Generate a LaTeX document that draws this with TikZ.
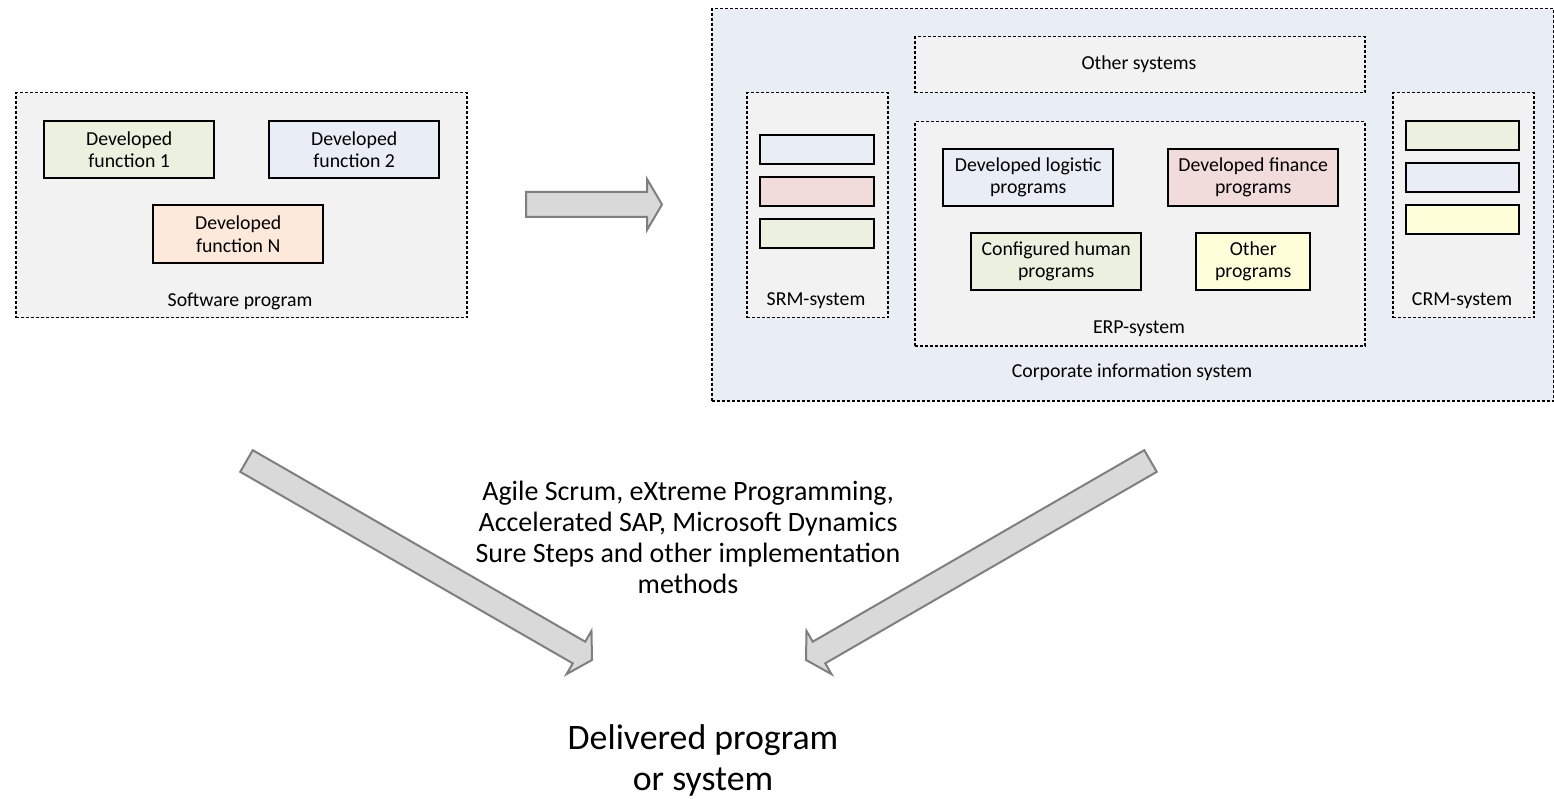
\documentclass[tikz,border=0pt]{standalone}
\usepackage{fontspec}
\setmainfont{Carlito}
\usetikzlibrary{calc}
\definecolor{outergray}{HTML}{F2F2F2}
\definecolor{outerblue}{HTML}{E9EDF4}
\definecolor{fgreen}{HTML}{EBF1DE}
\definecolor{fblue}{HTML}{E9EDF5}
\definecolor{fpeach}{HTML}{FDE9D9}
\definecolor{fpink}{HTML}{F2DCDB}
\definecolor{fyellow}{HTML}{FFFFD9}
\definecolor{arrfill}{HTML}{D9D9D9}
\definecolor{arrline}{HTML}{7F7F7F}
\tikzset{
  dotbox/.style={draw=black, line width=1.5pt, dash pattern=on 3pt off 2pt, inner sep=0pt, anchor=north west},
  progbox/.style={draw=black, line width=2.4pt, inner sep=0pt, anchor=north west, align=center,
    font=\fontsize{19.8}{22}\selectfont},
  lbl/.style={inner sep=0pt, font=\fontsize{19.8}{22}\selectfont},
  blockarr/.style={draw=arrline, fill=arrfill, line width=2pt, line join=miter},
}
\begin{document}
\begin{tikzpicture}[x=1pt,y=-1pt]
\useasboundingbox (0,0) rectangle (1554,799);

% ---- Left: software program
\node[dotbox, fill=outergray, minimum width=451pt, minimum height=225pt] (sw) at (15,92) {};
\node[progbox, fill=fgreen, minimum width=170pt, minimum height=57pt] (f1) at (43,120) {Developed\\function 1};
\node[progbox, fill=fblue, minimum width=170pt, minimum height=57pt] (f2) at (268,120) {Developed\\function 2};
\node[progbox, fill=fpeach, minimum width=170pt, minimum height=58pt] (fn) at (152,204) {Developed\\function N};
\node[lbl] (swl) at (240,301) {Software program};

% ---- Horizontal arrow
\coordinate (hs) at (526,204.5);
\coordinate (he) at (662,204.5);
\coordinate (hh) at ($(he)!15pt!(hs)$);
\draw[blockarr] ($(hs)!12.5pt!90:(he)$) -- ($(hh)!12.5pt!90:(he)$) -- ($(hh)!25.5pt!90:(he)$) -- (he)
  -- ($(hh)!25.5pt!-90:(he)$) -- ($(hh)!12.5pt!-90:(he)$) -- ($(hs)!12.5pt!-90:(he)$) -- cycle;

% ---- Right: corporate information system
\node[dotbox, fill=outerblue, minimum width=842pt, minimum height=392pt] (cis) at (711,8) {};
\node[lbl] (cisl) at (1132,372) {Corporate information system};

\node[dotbox, fill=outergray, minimum width=450pt, minimum height=56pt] (oth) at (914,36) {};
\node[lbl] (othl) at (1139,64) {Other systems};

\node[dotbox, fill=outergray, minimum width=141pt, minimum height=225pt] (srm) at (746,92) {};
\node[progbox, fill=fblue, minimum width=114pt, minimum height=29pt] (s1) at (759,134) {};
\node[progbox, fill=fpink, minimum width=114pt, minimum height=29pt] (s2) at (759,176) {};
\node[progbox, fill=fgreen, minimum width=114pt, minimum height=29pt] (s3) at (759,218) {};
\node[lbl] (srml) at (816,301) {SRM-system};

\node[dotbox, fill=outergray, minimum width=450pt, minimum height=224pt] (erp) at (914,121) {};
\node[progbox, fill=fblue, minimum width=170pt, minimum height=57pt] (log) at (942,148) {Developed logistic\\programs};
\node[progbox, fill=fpink, minimum width=170pt, minimum height=57pt] (fin) at (1167,148) {Developed finance\\programs};
\node[progbox, fill=fgreen, minimum width=170pt, minimum height=57pt] (hum) at (970,232) {Configured human\\programs};
\node[progbox, fill=fyellow, minimum width=114pt, minimum height=57pt] (oprog) at (1195,232) {Other\\programs};
\node[lbl] (erpl) at (1139,329) {ERP-system};

\node[dotbox, fill=outergray, minimum width=141pt, minimum height=225pt] (crm) at (1392,92) {};
\node[progbox, fill=fgreen, minimum width=113pt, minimum height=29pt] (c1) at (1405,120) {};
\node[progbox, fill=fblue, minimum width=113pt, minimum height=29pt] (c2) at (1405,162) {};
\node[progbox, fill=fyellow, minimum width=113pt, minimum height=29pt] (c3) at (1405,204) {};
\node[lbl] (crml) at (1462,301) {CRM-system};

% ---- Middle text
\node[inner sep=0pt, align=center, font=\fontsize{28}{31}\selectfont] (meth) at (688,537)
 {Agile Scrum, eXtreme Programming,\\Accelerated SAP, Microsoft Dynamics\\Sure Steps and other implementation\\methods};

% ---- Delivered
\node[inner sep=0pt, align=center, font=\fontsize{35.8}{41}\selectfont] (del) at (703,760)
 {Delivered program\\or system};

% ---- Diagonal arrows
\coordinate (ls) at (246.5,461);
\coordinate (le) at (592,660);
\coordinate (lh) at ($(le)!15pt!(ls)$);
\draw[blockarr] ($(ls)!12.5pt!90:(le)$) -- ($(lh)!12.5pt!90:(le)$) -- ($(lh)!25pt!90:(le)$) -- (le)
  -- ($(lh)!25pt!-90:(le)$) -- ($(lh)!12.5pt!-90:(le)$) -- ($(ls)!12.5pt!-90:(le)$) -- cycle;

\coordinate (rs) at (1150.5,461);
\coordinate (re) at (806,660);
\coordinate (rh) at ($(re)!15pt!(rs)$);
\draw[blockarr] ($(rs)!12.5pt!90:(re)$) -- ($(rh)!12.5pt!90:(re)$) -- ($(rh)!25pt!90:(re)$) -- (re)
  -- ($(rh)!25pt!-90:(re)$) -- ($(rh)!12.5pt!-90:(re)$) -- ($(rs)!12.5pt!-90:(re)$) -- cycle;
\end{tikzpicture}
\end{document}
